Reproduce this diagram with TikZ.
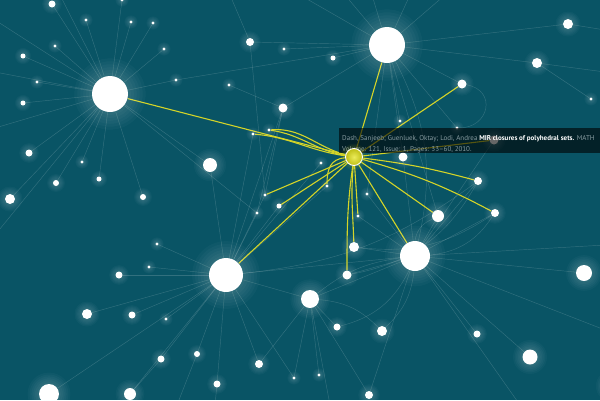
\documentclass[tikz,border=0pt]{standalone}
\usepackage{fontspec}
\setmainfont{PT Sans}
\usetikzlibrary{calc}
\definecolor{bg}{RGB}{9,84,101}
\definecolor{ylw}{RGB}{212,212,40}
\definecolor{tipgrey}{RGB}{135,155,160}
\pgfdeclarelayer{edges}
\pgfdeclarelayer{tip}
\pgfdeclarelayer{front}
\pgfsetlayers{edges,main,tip,front}
\begin{document}
\begin{tikzpicture}[x=1pt,y=-1pt,
  dot/.style={circle,fill=white,inner sep=0pt,draw=none},
  faint/.style={draw=white,draw opacity=0.17,line width=0.45pt},
  hl/.style={draw=ylw,line width=1.1pt},
  tiptext/.style={anchor=base west,inner sep=0pt,font=\fontsize{7.0}{8}\selectfont,text=tipgrey}]
\useasboundingbox (0,0) rectangle (600,400);
\begin{pgfonlayer}{edges}
\fill[bg] (0,0) rectangle (600,400);
\end{pgfonlayer}
% nodes with glow
\foreach \n/\x/\y/\r in {h1/110/94/18, h2/387/45/18, h3/226/275/17, h4/415/256/15,
  m1/210/165/7, m2/310/299/9, m3/584/273/8, m4/530/357/7.5, m5/49/394/10, m6/130/394/6,
  m7/438/216/6, m8/87/314/5, m9/10/199/5, m10/568/24/5, m11/537/63/5, m12/462/84/4.5,
  m13/283/108/4.5, m14/250/42/4, m15/382/331/5, m16/354/247/5, m17/347/275/4.5,
  m18/495/213/4, m19/478/181/4, m20/494/140/4.5, m21/403/157/4.5, m22/29/153/3.5,
  m23/52/4/3.5, m24/259/364/4, m25/369/395/4, m26/477/334/3.5, m27/161/359/3.5,
  m28/132/315/3.5, m29/217/384/3.5, m30/119/275/3.5, m31/56/183/3, m32/337/327/3.5,
  m33/197/354/3, m34/23/56/2.5, m35/23/103/2.5, m36/99/179/2.5, m37/143/197/3,
  m38/279/206/2.5, m39/612/386/7, s10/333/58/2.5,
  s1/86/20/1.7, s2/131/22/1.7, s3/153/23/1.7, s4/55/46/1.7, s5/164/49/1.7, s6/37/82/1.7,
  s7/176/80/1.7, s8/229/85/1.7, s9/284/49/1.7, s11/82/162/1.7, s12/269/130/1.7,
  s13/253/134/1.7, s14/265/195/1.7, s15/257/213/1.7, s16/321/163/1.7, s17/327/186/1.7,
  s18/367/194/1.7, s19/358/216/1.7, s20/400/121/1.7, s21/457/128/1.7, s22/591/99/1.7,
  s23/157/244/1.7, s24/149/267/1.7, s25/166/319/1.7, s26/294/378/1.7, s27/319/375/1.7,
  s28/122/0/1.7}{
  \foreach \k in {6,5,4,3,2,1}{
    \fill[white,opacity=0.028] (\x,\y) circle[radius={(\r*(1+0.13*\k)+0.6*\k)*1pt}];
  }
  \node[dot,minimum size={2*\r*1pt}] (\n) at (\x,\y) {};
}
% centre node
\begin{pgfonlayer}{front}
\foreach \k in {4,3,2,1}{\fill[ylw,opacity=0.05] (354,157) circle[radius={(8.5+1.2*\k)*1pt}];}
\node[circle,inner sep=0pt,minimum size=17pt,draw=white,line width=0.9pt,
  inner color={rgb,255:red,235;green,235;blue,90},outer color={rgb,255:red,190;green,190;blue,20}] (c) at (354,157) {};
\end{pgfonlayer}
% off-canvas ends
\coordinate (e1) at (-5,72); \coordinate (e2) at (-5,128); \coordinate (e3) at (60,-5);
\coordinate (e4) at (-5,235); \coordinate (e5) at (345,-5); \coordinate (e6) at (372,-5);
\coordinate (e7) at (410,-5); \coordinate (e8) at (445,-5); \coordinate (e9) at (605,30);
\coordinate (e10) at (605,72); \coordinate (e11) at (605,330); \coordinate (e12) at (520,405);
\coordinate (e13) at (330,405); \coordinate (e14) at (177,405); \coordinate (e15) at (215,405);
\coordinate (e16) at (605,245); \coordinate (e17) at (300,-5); \coordinate (e18) at (230,-5);
\coordinate (e19) at (-5,20);
\begin{pgfonlayer}{edges}
\foreach \a/\b in {h1/s1,h1/s2,h1/s3,h1/s4,h1/s5,h1/s6,h1/s7,h1/m23,h1/m34,h1/m35,h1/m22,
  h1/s11,h1/m36,h1/m31,h1/m9,h1/m37,h1/s28,h1/e1,h1/e2,h1/e3,h1/e4,h1/e19,h1/m1,h1/s15,
  s7/h2,s8/m13,m13/h2,m13/s14,m13/s15,m14/h2,m14/e18,m14/s14,
  h2/s9,h2/s10,h2/s20,h2/s21,h2/m12,h2/m11,h2/m10,h2/e5,h2/e6,h2/e7,h2/e8,h2/e17,h2/m7,h2/m21,h2/s18,
  m11/s22,m11/e10,m10/e9,
  h3/s23,h3/s24,h3/m30,h3/m8,h3/m28,h3/s25,h3/m27,h3/m33,h3/m29,h3/m5,h3/m6,h3/m24,h3/s26,
  h3/m38,h3/s15,h3/s14,h3/m2,h3/h4,h3/s13,h3/s16,h3/s17,h3/m13,h3/m1,
  m27/m6,m33/e14,m29/e15,m24/m2,s26/m2,
  h4/m7,h4/m18,h4/m16,h4/m17,h4/m2,h4/m26,h4/m4,h4/m25,h4/m3,h4/s19,h4/s18,h4/m19,
  h4/m21,h4/e11,h4/e12,h4/e16,h4/m20,
  m2/m32,m2/s27,m2/m25,m2/e13}{
  \draw[faint] (\a) -- (\b);
}
\draw[faint] (h4) to[bend left=30] (m7);
\draw[faint] (h4) to[bend right=25] (m18);
\draw[faint] (m16) to[bend right=20] (m18);
\draw[faint] (m17) to[bend right=25] (m19);
\draw[faint] (h3) to[bend right=15] (m19);
\draw[faint] (m12) to[out=-10,in=0,looseness=1.8] (s21);
\draw[faint] (m15) to[bend right=20] (h4);
\draw[faint] (m32) to[bend right=25] (h4);
\draw[faint] (m2) to[bend left=15] (h4);
\draw[faint] (h2) to[bend left=20] (h4);
\draw[faint] (m2) to[bend left=20] (m15);
% highlighted edges
\draw[hl] (c) -- (h1);
\draw[hl] (c) -- (h2);
\draw[hl] (c) -- (m12);
\draw[hl] (c) -- (m20);
\draw[hl] (c) to[bend left=4] (m19);
\draw[hl] (c) to[bend left=6] (m18);
\draw[hl] (c) -- (m7);
\draw[hl] (c) -- (h4);
\draw[hl] (c) to[out=265,in=92] (m16);
\draw[hl] (c) to[out=262,in=90] (m17);
\draw[hl] (c) -- (s19);
\draw[hl] (c) to[out=185,in=90,looseness=1.2] (s17);
\draw[hl] (s12) to[out=5,in=165] (c);
\draw[hl] (s12) to[out=-8,in=170] (c);
\draw[hl] (s13) to[out=-5,in=172] (c);
\draw[hl] (c) -- (s14);
\draw[hl] (c) -- (m38);
\draw[hl] (c) -- (h3);
\end{pgfonlayer}
% tooltip
\begin{pgfonlayer}{tip}
\fill[black,opacity=0.6] (339,128) rectangle (600,153);
\node[tiptext] (t1) at (342,140) {Dash, Sanjeeb; Guenluek, Oktay; Lodi, Andrea \textcolor{white}{\bfseries MIR closures of polyhedral sets.} MATH};
\node[tiptext] (t2) at (342,151) {Volume: 121, Issue: 1, Pages: 33--60, 2010.};
\end{pgfonlayer}
\end{tikzpicture}
\end{document}
